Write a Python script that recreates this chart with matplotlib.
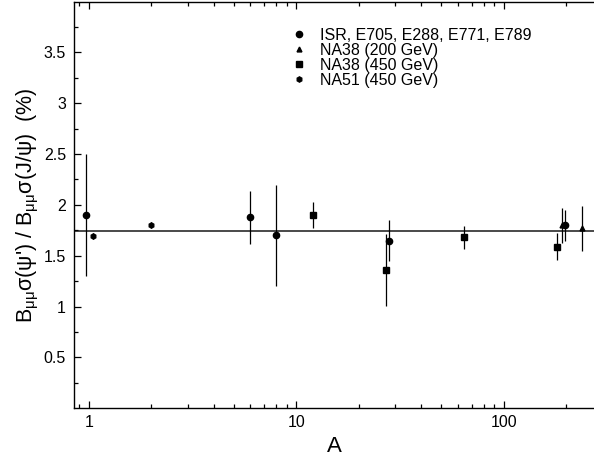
import matplotlib
matplotlib.use("Agg")
import matplotlib.pyplot as plt
from matplotlib.lines import Line2D
from matplotlib.ticker import FixedLocator, LogLocator, NullFormatter, FuncFormatter

plt.rcParams['font.family'] = ['Liberation Sans', 'DejaVu Sans']
plt.rcParams['mathtext.fontset'] = 'custom'
plt.rcParams['mathtext.rm'] = 'Liberation Sans'
plt.rcParams['mathtext.it'] = 'Liberation Sans:italic'
plt.rcParams['mathtext.sf'] = 'Liberation Sans'

# ---- data ----
isr_A = [0.97, 6, 8, 28, 197]
isr_ratio = [1.90, 1.88, 1.70, 1.65, 1.80]
isr_err = [0.60, 0.26, 0.50, 0.20, 0.15]

na38_200_A = [190, 238]
na38_200_ratio = [1.80, 1.77]
na38_200_err = [0.17, 0.22]

na38_450_A = [12, 27, 64, 180]
na38_450_ratio = [1.90, 1.36, 1.68, 1.59]
na38_450_err = [0.13, 0.35, 0.11, 0.13]

na51_A = [1.05, 2]
na51_ratio = [1.69, 1.80]
na51_err = [0.03, 0.03]

mean_ratio = 1.74

labels = ["ISR, E705, E288, E771, E789", "NA38 (200 GeV)",
          "NA38 (450 GeV)", "NA51 (450 GeV)"]

fig = plt.figure(figsize=(5.94, 4.62), dpi=100)
ax = fig.add_axes([0.125, 0.1162, 0.875, 0.8805])

ax.axhline(mean_ratio, color='#3a3a3a', lw=1.3, zorder=1)

common = dict(color='black', ecolor='black', elinewidth=0.9, capsize=0, linestyle='none', zorder=3)
styles = [('o', 4.5), ('^', 3.5), ('s', 4.5), ('h', 3.8)]
ax.errorbar(isr_A, isr_ratio, yerr=isr_err, marker=styles[0][0], ms=styles[0][1], **common)
ax.errorbar(na38_200_A, na38_200_ratio, yerr=na38_200_err, marker=styles[1][0], ms=styles[1][1], **common)
ax.errorbar(na38_450_A, na38_450_ratio, yerr=na38_450_err, marker=styles[2][0], ms=styles[2][1], **common)
ax.errorbar(na51_A, na51_ratio, yerr=na51_err, marker=styles[3][0], ms=styles[3][1], **common)

ax.set_xscale('log')
ax.set_xlim(0.85, 272)
ax.set_ylim(0, 4)

ax.yaxis.set_major_locator(FixedLocator([0.5, 1, 1.5, 2, 2.5, 3, 3.5]))
ax.yaxis.set_minor_locator(FixedLocator([0.25 * i for i in range(1, 16)]))
ax.yaxis.set_major_formatter(FuncFormatter(lambda v, p: f"{v:g}"))
ax.xaxis.set_major_locator(FixedLocator([1, 10, 100]))
ax.xaxis.set_minor_locator(LogLocator(base=10, subs=range(2, 10)))
ax.xaxis.set_minor_formatter(NullFormatter())
ax.xaxis.set_major_formatter(FuncFormatter(lambda v, p: f"{v:g}"))

ax.tick_params(which='both', direction='in', top=True, right=False, labelsize=11.5, width=0.9)
ax.tick_params(axis='y', which='major', length=5, pad=6)
ax.tick_params(axis='y', which='minor', length=3)
ax.tick_params(axis='x', which='major', length=5, pad=5)
ax.tick_params(axis='x', which='minor', length=3)
ax.spines['right'].set_visible(False)
for s in ['left', 'bottom', 'top']:
    ax.spines[s].set_linewidth(1.0)

ax.set_xlabel('A', fontsize=16, labelpad=4)
ax.set_ylabel(r"B$_{\mathregular{\mu\mu}}$σ(ψ') / B$_{\mathregular{\mu\mu}}$σ(J/ψ)  (%)",
              fontsize=15.5, labelpad=2)

handles = [Line2D([], [], color='black', marker=m, ms=s, linestyle='none') for m, s in styles]
leg = ax.legend(handles, labels, loc='upper left',
                bbox_to_anchor=(0.405, 0.951), frameon=False, fontsize=11.5,
                handlelength=1.0, handletextpad=0.8, labelspacing=0.0,
                borderaxespad=0)

fig.savefig('out.png', dpi=100)
